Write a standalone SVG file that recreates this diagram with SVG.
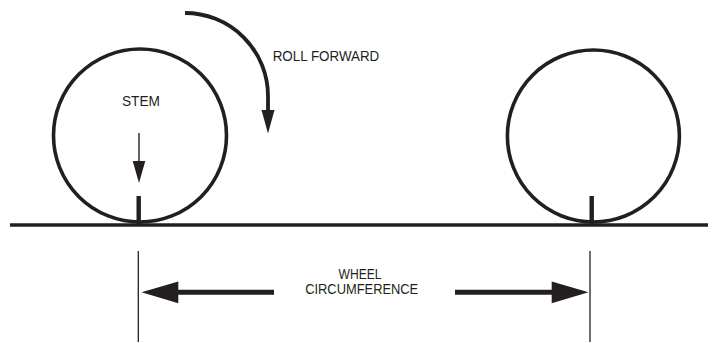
<svg xmlns="http://www.w3.org/2000/svg" width="718" height="343" viewBox="0 0 718 343">
  <style>
    .wheel { fill: none; stroke: #231f20; stroke-width: 3.6; }
    .ink { fill: #231f20; }
    .bar { stroke: #231f20; fill: none; }
    .label { font-family: "Liberation Sans", Arial, sans-serif; font-size: 14px; fill: #231f20; }
  </style>
  <rect width="718" height="343" fill="#ffffff"/>

  <!-- ground line -->
  <g id="ground">
    <line class="bar" x1="10" y1="225" x2="708" y2="225" stroke-width="3.6"/>
  </g>

  <!-- wheel at start position -->
  <g id="wheel-start">
    <circle class="wheel" cx="140" cy="135.5" r="86.5"/>
    <rect class="ink" x="136.5" y="196" width="4.4" height="28"/>
  </g>

  <!-- wheel after one revolution -->
  <g id="wheel-end">
    <circle class="wheel" cx="593.4" cy="136" r="86"/>
    <rect class="ink" x="589.5" y="196" width="4.4" height="28"/>
  </g>

  <g id="stem-label">
    <text class="label" x="141" y="106" text-anchor="middle" textLength="38" lengthAdjust="spacingAndGlyphs">STEM</text>
  </g>

  <g id="roll-label">
    <text class="label" x="272.7" y="61" textLength="106.6" lengthAdjust="spacingAndGlyphs">ROLL FORWARD</text>
  </g>

  <g id="circumference-label">
    <text class="label" x="360" y="279" text-anchor="middle" textLength="43" lengthAdjust="spacingAndGlyphs">WHEEL</text>
    <text class="label" x="361.7" y="294.3" text-anchor="middle" textLength="113" lengthAdjust="spacingAndGlyphs">CIRCUMFERENCE</text>
  </g>

  <!-- connectors -->
  <g id="connectors">
    <!-- stem pointer -->
    <line class="bar" x1="139" y1="133" x2="139" y2="163" stroke-width="1.4"/>
    <polygon class="ink" points="132.7,161 145.3,161 139,183"/>

    <!-- roll forward arc -->
    <path class="bar" d="M185,13 A83,83 0 0 1 268,96 L268,112" stroke-width="3.8"/>
    <polygon class="ink" points="261.5,110 274.5,110 268,133.5"/>

    <!-- dimension extension lines -->
    <line class="bar" x1="138.3" y1="251" x2="138.3" y2="342" stroke-width="1.3"/>
    <line class="bar" x1="590" y1="251" x2="590" y2="342" stroke-width="1.3"/>

    <!-- dimension arrows -->
    <line class="bar" x1="176" y1="292.3" x2="274" y2="292.3" stroke-width="5"/>
    <polygon class="ink" points="141.5,292.3 178.3,281.5 178.3,303.2"/>
    <line class="bar" x1="455" y1="292.3" x2="554" y2="292.3" stroke-width="5"/>
    <polygon class="ink" points="588.5,292.3 551.7,281.5 551.7,303.2"/>
  </g>
</svg>
